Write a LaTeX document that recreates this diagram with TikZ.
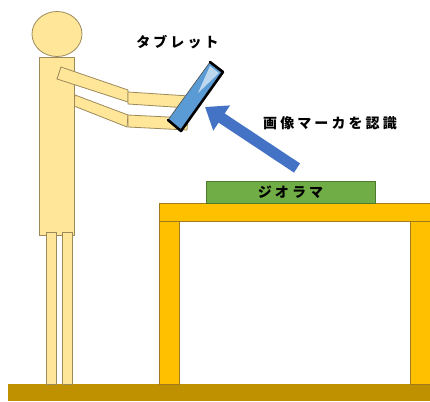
\documentclass[tikz,border=0pt]{standalone}
\usepackage{fontspec}
\newfontfamily\jpfont{Noto Sans CJK JP}[LetterSpace=22]
\usetikzlibrary{arrows.meta,calc,positioning}
\definecolor{skin}{HTML}{FFE699}
\definecolor{skinline}{HTML}{9C8A5A}
\definecolor{wood}{HTML}{FFC000}
\definecolor{woodline}{HTML}{A27A1E}
\definecolor{floor}{HTML}{BF9000}
\definecolor{diorama}{HTML}{70AD47}
\definecolor{dioramaline}{HTML}{4E7A30}
\definecolor{pad}{HTML}{5B9BD5}
\definecolor{padlight}{HTML}{BDD7EE}
\definecolor{arrowblue}{HTML}{4472C4}
\tikzset{
  body/.style={fill=skin, draw=skinline, line width=0.8pt},
  table/.style={fill=wood, draw=woodline, line width=0.8pt},
  label/.style={font=\jpfont\bfseries\fontsize{14}{14}\selectfont, inner sep=0pt}
}
\begin{document}
\begin{tikzpicture}[x=1pt,y=-1pt]
                \useasboundingbox (0,0) rectangle (430,401);
                % floor
                \fill[floor] (8,384) rectangle (430,401);
                % table
                \filldraw[table] (159,221) rectangle (179,384);
                \filldraw[table] (410,221) rectangle (430,384);
                \filldraw[table] (159,203) rectangle (430,221);
                % diorama on the table
                \filldraw[fill=diorama, draw=dioramaline, line width=0.8pt] (206,181) rectangle (375,203);
                \node[label] (geo) at (290.5,192) {ジオラマ};
                % lower arm, behind the body
                \filldraw[body] (75,95) -- (128,115) -- (127,127) -- (74,106) -- cycle;
                \filldraw[body] (128,115) -- (188,118) -- (187,130) -- (128,127) -- cycle;
                % body, legs and head
                \filldraw[body] (39,57) rectangle (74,235);
                \foreach \x in {46,62}
                  {
                    \filldraw[body] (\x,232) rectangle (\x+10.5,384);
                  }
                \filldraw[body] (57,34) ellipse [x radius=25, y radius=22.5];
                % upper arm
                \filldraw[body] (61,67) -- (128,90) -- (128,102) -- (57,79) -- cycle;
                \filldraw[body] (128,92) -- (189,96) -- (188,108) -- (128,104) -- cycle;
                % tablet
                \coordinate (ta) at (210,62);
                \coordinate (tb) at (223,72);
                \coordinate (tc) at (181,131);
                \coordinate (td) at (168,120);
                \filldraw[fill=pad, draw=black!70, line width=0.6pt] (ta) -- (tb) -- (tc) -- (td) -- cycle;
                \fill[padlight] (210,66) -- (219,73) -- (198,93) -- cycle;
                \draw[line width=2.6pt, line cap=round, line join=round] (ta) -- (tb) -- (tc) -- (td);
                \node[label] (tab) at (177.5,42) {タブレット};
                % recognition arrow
                \coordinate (from) at (297,168);
                \coordinate (to) at (205,107);
                \draw[arrowblue, line width=11pt, -{Triangle[length=20pt,width=29pt]}] (from) -- (to);
                \node[label] (mark) at (330,123) {画像マーカを認識};
              \end{tikzpicture}
\end{document}
